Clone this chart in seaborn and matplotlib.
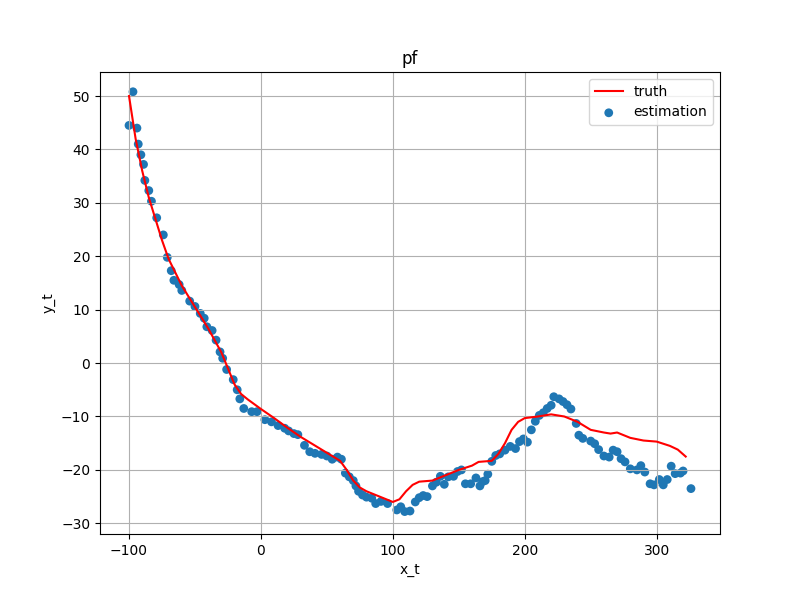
import matplotlib
matplotlib.use("Agg")
import matplotlib.pyplot as plt
import seaborn as sns

truth_x = [-100, -95, -90, -85, -80, -75, -70, -65, -60, -50, -40, -30, -25, -20, -15, -10, 0, 10, 20, 30,
           40, 50, 60, 65, 70, 75, 80, 90, 100, 105, 110, 115, 120, 130, 140, 150, 160, 165, 175, 180,
           185, 190, 195, 200, 210, 220, 230, 240, 250, 260, 265, 270, 280, 290, 300, 310, 316, 322]
truth_y = [50, 42, 36, 31, 27, 23, 19.5, 17, 14.5, 10.5, 6.5, 2, -1, -4, -5.8, -6.8, -8.6, -10.3, -12.1, -13.8,
           -15.3, -16.8, -18.3, -20, -22, -23.3, -24, -25, -26, -25.5, -24, -22.8, -22.2, -22, -21, -20, -19.2, -18.5, -18.3, -17,
           -15, -12.5, -11, -10.3, -10, -9.6, -10, -11, -12.5, -13, -13.2, -13, -14, -14.5, -14.7, -15.5, -16.2, -17.5]

est_x = [-100, -97, -94, -93, -91, -89, -88, -85, -83, -79, -74, -71, -68, -66, -62, -60, -54, -50, -46, -43,
         -41, -37, -34, -31, -29, -26, -21, -18, -16, -13, -7, -3, 3, 8, 13, 18, 21, 25, 28, 33,
         37, 41, 46, 50, 54, 58, 61, 64, 67, 70, 72, 74, 77, 80, 84, 87, 91, 96, 103, 106,
         109, 113, 117, 120, 123, 126, 130, 133, 136, 139, 142, 146, 149, 152, 155, 159, 163, 166, 168, 170,
         172, 175, 178, 181, 185, 189, 193, 196, 199, 202, 205, 208, 211, 214, 217, 220, 222, 226, 229, 232,
         235, 239, 241, 244, 250, 253, 256, 260, 264, 267, 270, 273, 276, 280, 285, 288, 291, 295, 298, 302,
         305, 308, 311, 314, 318, 320, 326]
est_y = [44.5, 50.8, 44, 41, 39, 37.2, 34.2, 32.3, 30.3, 27.2, 24, 19.8, 17.3, 15.5, 14.7, 13.6, 11.6, 10.6, 9.3, 8.4,
         6.8, 6.1, 4.3, 2.1, 0.9, -1.2, -3.1, -5, -6.7, -8.5, -9.1, -9.1, -10.6, -11, -11.7, -12.2, -12.7, -13.2, -13.4, -15.4,
         -16.6, -16.9, -17.1, -17.4, -18, -17.6, -18, -20.6, -21.3, -22, -23, -24, -24.7, -25.1, -25.3, -26.3, -25.9, -26.3, -27.5, -26.9,
         -27.8, -27.7, -26, -25.2, -24.8, -25, -23, -22.3, -21.2, -22.7, -21.3, -21.2, -20.3, -20, -22.6, -22.6, -21.5, -23, -22.2, -22,
         -20.8, -18.4, -17.3, -17, -16.3, -15.6, -16, -14.7, -14.2, -14.8, -12.5, -10.9, -9.8, -9.3, -8.5, -7.9, -6.3, -6.7, -7.2, -7.8,
         -8.6, -11.3, -13.5, -14.1, -14.6, -15.1, -16.2, -17.4, -17.6, -16.3, -16.6, -17.9, -18.5, -19.8, -20, -19.2, -20.4, -22.6, -22.8, -21.8,
         -22.8, -21.8, -19.3, -20.7, -20.6, -20.2, -23.5]

fig, ax = plt.subplots(figsize=(8, 6), dpi=100)
sns.lineplot(x=truth_x, y=truth_y, color='r', label='truth', ax=ax, sort=False)
sns.scatterplot(x=est_x, y=est_y, color='#1f77b4', s=40, edgecolor='none', label='estimation', ax=ax)
ax.set_title("pf")
ax.set_xlabel("x_t")
ax.set_ylabel("y_t")
ax.set_xlim(-122, 348)
ax.set_ylim(-32, 54.5)
ax.legend(loc='upper right')
ax.grid(True)
fig.savefig("out.png")
